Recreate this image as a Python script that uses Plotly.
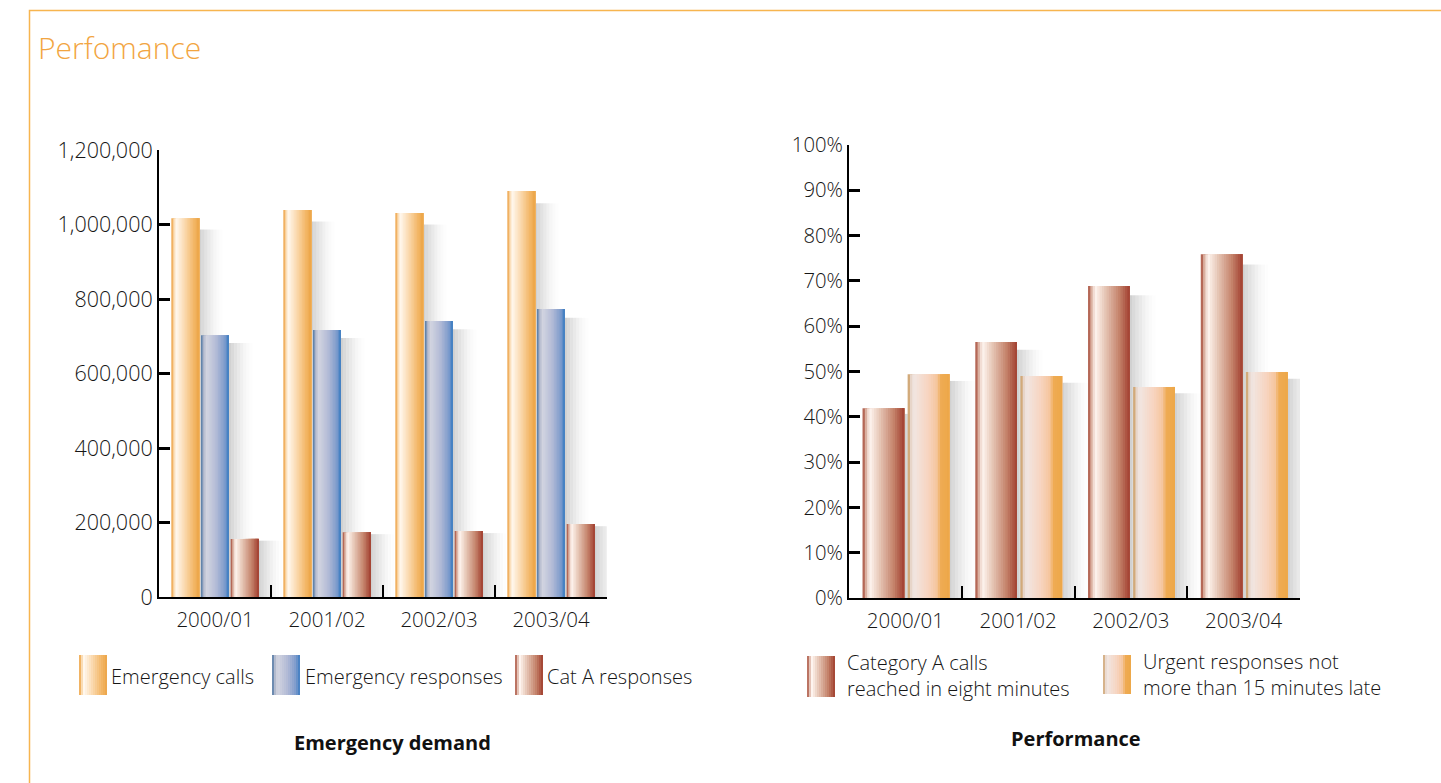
import plotly.graph_objects as go

# ---------------- data ----------------
years = ["2000/01", "2001/02", "2002/03", "2003/04"]
emergency_calls = [1017000, 1039000, 1031000, 1090000]
emergency_responses = [703000, 717000, 741000, 773000]
cat_a_responses = [156000, 174000, 177000, 196000]

cat_a_8min_pct = [41.9, 56.5, 68.9, 75.9]
urgent_15min_pct = [49.4, 49.0, 46.6, 49.9]

left_ticks = [0, 200000, 400000, 600000, 800000, 1000000, 1200000]
right_ticks = [0, 10, 20, 30, 40, 50, 60, 70, 80, 90, 100]
right_ticklabels = [f"{v}%" for v in right_ticks]

# ---------------- styles ----------------
W, H = 1441, 783
FONT = "Open Sans"
TXT = "#161616"

ORANGE = [(0.0, "#e99c3c"), (0.06, "#f6c27e"), (0.16, "#fff9f1"), (0.45, "#fbdcb4"),
          (0.8, "#f3b768"), (1.0, "#eca548")]
BLUE = [(0.0, "#3d6c9c"), (0.08, "#a9b2c8"), (0.2, "#d3d5e0"), (0.55, "#b2bad6"),
        (0.85, "#7d9bcc"), (1.0, "#3b7cc1")]
BROWN = [(0.0, "#a1402f"), (0.07, "#d4a594"), (0.17, "#fff6f1"), (0.4, "#e7c8b8"),
         (0.75, "#c4826a"), (1.0, "#a13f2f")]
URGENT = [(0.0, "#c28b3e"), (0.06, "#e4cfc0"), (0.15, "#f1e6e2"), (0.5, "#f7d4bf"),
          (0.72, "#f5c49a"), (0.78, "#efab54"), (1.0, "#eda748")]


def hx(c):
    c = c.lstrip("#")
    return tuple(int(c[i:i + 2], 16) for i in (0, 2, 4))


def interp(stops, t):
    for (t0, c0), (t1, c1) in zip(stops[:-1], stops[1:]):
        if t0 <= t <= t1:
            f = 0 if t1 == t0 else (t - t0) / (t1 - t0)
            a, b = hx(c0), hx(c1)
            return "rgb(%d,%d,%d)" % tuple(round(a[k] + (b[k] - a[k]) * f) for k in range(3))
    return stops[-1][1]


fig = go.Figure()

N = 18


def add_shadow(x, y, offset, width, xa, ya, span=0.22):
    m = 8
    for j in range(m):
        alpha = 0.18 * (1 - j / m) ** 1.6
        fig.add_trace(go.Bar(
            x=x, y=[v * 0.97 for v in y],
            offset=offset + width + j * span / m - 0.01,
            width=span / m, marker=dict(color=f"rgba(0,0,0,{alpha:.3f})", line=dict(width=0)),
            xaxis=xa, yaxis=ya, showlegend=False, hoverinfo="skip"))


def add_gradient_bar(x, y, offset, width, stops, xa, ya, name):
    for i in range(N):
        t = (i + 0.5) / N
        fig.add_trace(go.Bar(
            x=x, y=y, offset=offset + i * width / N, width=width - i * width / N,
            marker=dict(color=interp(stops, t), line=dict(width=0)),
            xaxis=xa, yaxis=ya, showlegend=False, name=name,
            hoverinfo="x+y" if i == N - 1 else "skip"))


# left chart
lw = 0.25
left_series = [(emergency_calls, -0.39, ORANGE, "Emergency calls"),
               (emergency_responses, -0.125, BLUE, "Emergency responses"),
               (cat_a_responses, 0.14, BROWN, "Cat A responses")]
for vals, off, st, nm in left_series:
    add_shadow(years, vals, off, lw, "x", "y")
for vals, off, st, nm in left_series:
    add_gradient_bar(years, vals, off, lw, st, "x", "y", nm)

# right chart
rw = 0.37
right_series = [(cat_a_8min_pct, -0.38, BROWN, "Category A calls reached in eight minutes"),
                (urgent_15min_pct, 0.02, URGENT, "Urgent responses not more than 15 minutes late")]
for vals, off, st, nm in right_series:
    add_shadow(years, vals, off, rw, "x2", "y2", span=0.24)
for vals, off, st, nm in right_series:
    add_gradient_bar(years, vals, off, rw, st, "x2", "y2", nm)


def px_x(p):
    return p / W


def px_y(p):
    return 1 - p / H


def axis_common(size):
    return dict(showline=True, linecolor="black", linewidth=2, ticks="inside",
                tickcolor="black", showgrid=False, zeroline=False, automargin=False,
                tickfont=dict(family=FONT, size=size, color=TXT, weight=300))


fig.update_layout(
    width=W, height=H, margin=dict(l=0, r=0, t=0, b=0, pad=0), autosize=False,
    paper_bgcolor="white", plot_bgcolor="rgba(0,0,0,0)",
    barmode="overlay", showlegend=False,
    font=dict(family=FONT, color=TXT),
    xaxis=dict(domain=[px_x(159), px_x(607)], type="category", range=[-0.5, 3.5],
               tickson="boundaries", ticklen=12, tickwidth=2, anchor="y",
               ticklabelstandoff=3, **axis_common(20.5)),
    yaxis=dict(domain=[px_y(597), px_y(150)], range=[0, 1200000], tickvals=left_ticks,
               tickformat=",", ticklen=11, tickwidth=3, anchor="x", **axis_common(21.5)),
    xaxis2=dict(domain=[px_x(849), px_x(1300)], type="category", range=[-0.5, 3.5],
                tickson="boundaries", ticklen=12, tickwidth=2, anchor="y2",
                ticklabelstandoff=3, **axis_common(20.5)),
    yaxis2=dict(domain=[px_y(598), px_y(145)], range=[0, 100], tickvals=right_ticks,
                ticktext=right_ticklabels, ticklen=11, tickwidth=3, anchor="x2",
                **axis_common(20.3)),
)

shapes = []
# orange frame
shapes.append(dict(type="rect", xref="paper", yref="paper", x0=px_x(29.5), x1=1.05,
                   y0=-0.05, y1=px_y(10.5), line=dict(color="#f7b54f", width=1.5),
                   fillcolor="rgba(0,0,0,0)", layer="below"))


def swatch(x0, x1, y0, y1, stops, n=14):
    for i in range(n):
        t = (i + 0.5) / n
        shapes.append(dict(type="rect", xref="paper", yref="paper",
                           x0=px_x(x0 + (x1 - x0) * i / n), x1=px_x(x1),
                           y0=px_y(y1), y1=px_y(y0), line=dict(width=0),
                           fillcolor=interp(stops, t)))


swatch(79, 107, 655, 695, ORANGE)
swatch(272, 300, 655, 695, BLUE)
swatch(515, 543, 655, 695, BROWN)
swatch(807, 835, 656, 697, BROWN)
swatch(1103, 1131, 655, 694, URGENT)
fig.update_layout(shapes=shapes)

ann = []


def text(x, y, s, size=20, xanchor="left", bold=False, color=TXT):
    ann.append(dict(xref="paper", yref="paper", x=px_x(x), y=px_y(y), text=s,
                    showarrow=False, xanchor=xanchor, yanchor="middle", align="left",
                    font=dict(family=FONT, size=size, color=color,
                              weight=700 if bold else 300)))


text(36, 47, "Perfomance", size=30, color="#f2a541")
text(109, 676, left_series[0][3])
text(303, 676, left_series[1][3])
text(545, 676, left_series[2][3])
text(845, 675, "Category A calls<br>reached in eight minutes")
text(1141, 674, "Urgent responses not<br>more than 15 minutes late")
text(392, 742, "Emergency demand", size=20, xanchor="center", bold=True, color="#111")
text(1076, 738, "Performance", size=20, xanchor="center", bold=True, color="#111")
fig.update_layout(annotations=ann)

fig.write_html("out.html")
